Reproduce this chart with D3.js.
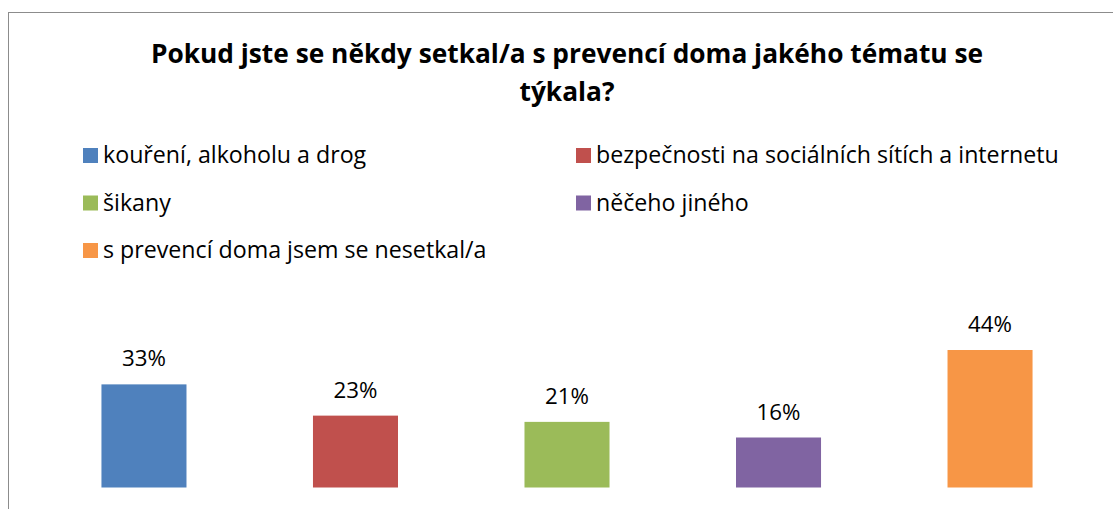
<!DOCTYPE html>
<html>
<head>
<meta charset="utf-8">
<script src="https://cdn.jsdelivr.net/npm/d3@7"></script>
<style>
  body { margin: 0; background: #fff; }
  svg text { font-family: "Open Sans", Lato, sans-serif; fill: #000; }
</style>
</head>
<body>
<svg id="chart" width="1113" height="509"></svg>
<script>
const categories = [
    'kouření, alkoholu a drog',
    'bezpečnosti na sociálních sítích a internetu',
    'šikany',
    'něčeho jiného',
    's prevencí doma jsem se nesetkal/a'
]
const values = [33, 23, 21, 16, 44]
const colors = ['#4F81BD', '#C0504D', '#9BBB59', '#8064A2', '#F79646']
const titleLines = ['Pokud jste se někdy setkal/a s prevencí doma jakého tématu se', 'týkala?']

const svg = d3.select('#chart')

// chart frame (cut off at right and bottom like the original)
svg.append('rect')
    .attr('x', 8.5).attr('y', 12.5)
    .attr('width', 1200).attr('height', 600)
    .attr('fill', '#fff')
    .attr('stroke', '#8c8c8c')
    .attr('stroke-width', 1)

svg.append('text')
    .attr('text-anchor', 'middle')
    .style('font-size', '26.3px')
    .style('font-weight', 'bold')
    .selectAll('tspan')
    .data(titleLines)
    .enter()
    .append('tspan')
    .attr('x', 567)
    .attr('y', (d, i) => 63 + i * 38)
    .text(d => d)

// legend, two columns
const legend = svg.append('g')
const items = legend.selectAll('g')
    .data(categories)
    .enter()
    .append('g')
    .attr('transform', (d, i) => `translate(${i % 2 ? 576 : 83},${148 + Math.floor(i / 2) * 47.5})`)

items.append('rect')
    .attr('width', 15).attr('height', 15)
    .attr('fill', (d, i) => colors[i])

items.append('text')
    .attr('x', 20).attr('y', 15)
    .style('font-size', '23.2px')
    .text(d => d)

const x = d3.scaleBand().domain(categories).range([38, 1096]).paddingInner(0.598).paddingOuter(0.3)
const y = d3.scaleLinear().domain([0, 50]).range([487.5, 331.25])

svg.selectAll('.bar')
    .data(values)
    .enter()
    .append('rect')
    .attr('class', 'bar')
    .attr('x', (d, i) => x(categories[i]))
    .attr('y', d => y(d))
    .attr('width', x.bandwidth())
    .attr('height', d => y(0) - y(d))
    .attr('fill', (d, i) => colors[i])

svg.selectAll('.lbl')
    .data(values)
    .enter()
    .append('text')
    .attr('class', 'lbl')
    .attr('text-anchor', 'middle')
    .attr('x', (d, i) => x(categories[i]) + x.bandwidth() / 2)
    .attr('y', d => y(d) - 18)
    .style('font-size', '22.3px')
    .text(d => d + '%')
</script>
</body>
</html>
